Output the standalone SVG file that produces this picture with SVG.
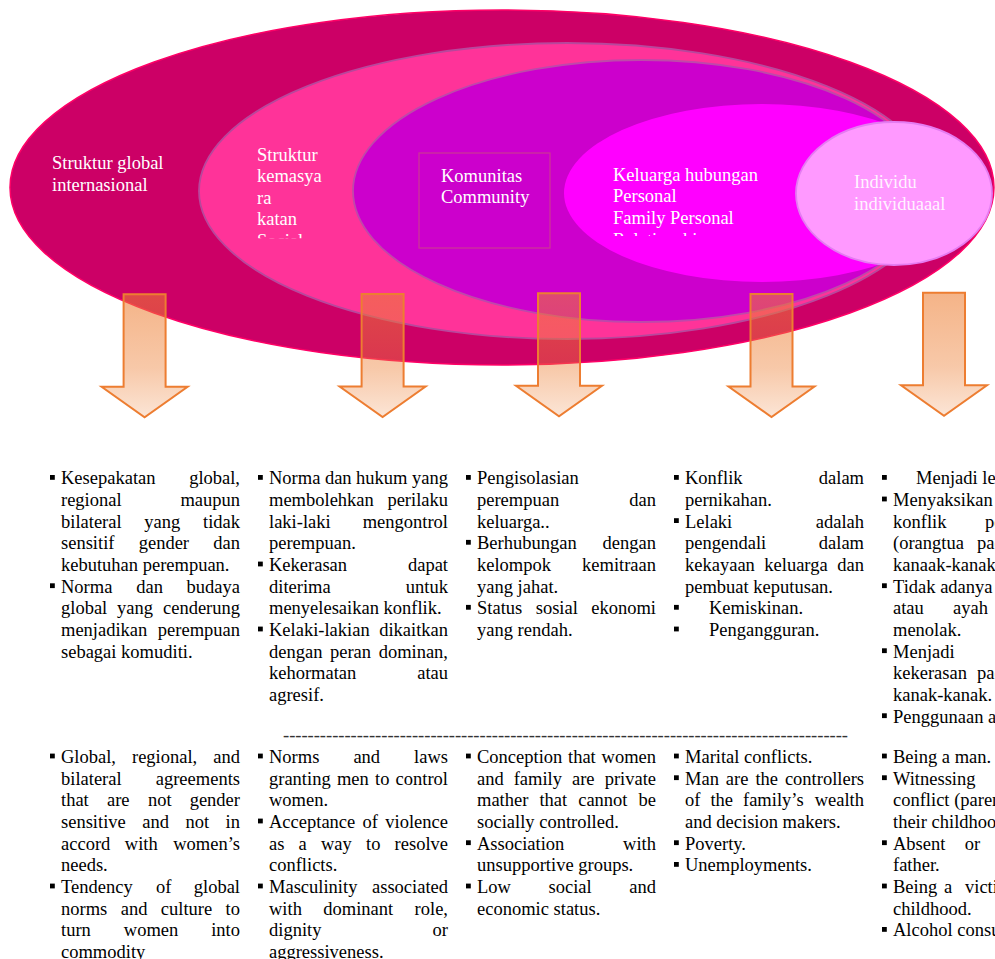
<svg xmlns="http://www.w3.org/2000/svg" width="995" height="959" viewBox="0 0 995 959">
<defs>
<style>
.lbl{font-family:"Liberation Serif","Times New Roman",serif;font-size:18.5px;fill:#fff}
.t{font-family:"Liberation Serif","Times New Roman",serif;font-size:18.5px;fill:#000}
.e{text-anchor:end}
.arr{fill:url(#ag);stroke:#ED7D31;stroke-width:2}
</style>
<linearGradient id="ag" x1="0" y1="0" x2="0" y2="1">
<stop offset="0" stop-color="#ED7D31" stop-opacity="0.58"/>
<stop offset="0.6" stop-color="#ED7D31" stop-opacity="0.42"/>
<stop offset="1" stop-color="#ED7D31" stop-opacity="0.2"/>
</linearGradient>
<path id="arrow" d="M-21,0 H21 V92.5 H43 L0,123 L-43,92.5 H-21 Z"/>
<rect id="bl" width="4.8" height="4.8"/>
<clipPath id="c1"><rect x="240" y="130" width="120" height="108.3"/></clipPath>
<clipPath id="c2"><rect x="600" y="150" width="220" height="86"/></clipPath>
</defs>

<g id="global">
<ellipse cx="502" cy="187.5" rx="492" ry="177.5" fill="#CC0066" stroke="#FF0066" stroke-width="1.5"/>
</g>
<g id="societal">
<ellipse cx="567" cy="191" rx="368" ry="148" fill="#FF3399" stroke="#B8479C" stroke-width="1.8"/>
</g>
<g id="community">
<ellipse cx="641.5" cy="191" rx="288.5" ry="131" fill="#CC00CC" stroke="#BF48AA" stroke-width="1.8"/>
<rect x="419" y="153" width="131" height="95" fill="none" stroke="#CC3399" stroke-width="1.3"/>
</g>
<g id="family">
<ellipse cx="762" cy="193" rx="198" ry="89" fill="#FF00FF"/>
</g>
<g id="individual">
<ellipse cx="894" cy="193.5" rx="98" ry="71.5" fill="#FF99FF" stroke="#E47CF2" stroke-width="1.8"/>
</g>

<g id="labels" class="lbl">
<text x="52" y="169.3">Struktur global</text>
<text x="52" y="190.7">internasional</text>
<g clip-path="url(#c1)">
<text x="257" y="160.7">Struktur</text>
<text x="257" y="182.3">kemasya</text>
<text x="257" y="204">ra</text>
<text x="257" y="225.3">katan</text>
<text x="257" y="246.8">Social</text>
</g>
<text x="441" y="182">Komunitas</text>
<text x="441" y="202.5">Community</text>
<g clip-path="url(#c2)">
<text x="613" y="181">Keluarga hubungan</text>
<text x="613" y="202.3">Personal</text>
<text x="613" y="224">Family Personal</text>
<text x="613" y="245.5">Relationship</text>
</g>
<text x="854" y="188.3" fill-opacity="0.9">Individu</text>
<text x="854" y="210" fill-opacity="0.9">individuaaal</text>
</g>

<g id="connectors">
<use href="#arrow" class="arr" x="144.6" y="294.3"/>
<use href="#arrow" class="arr" x="382.6" y="294"/>
<use href="#arrow" class="arr" x="559" y="293.3"/>
<use href="#arrow" class="arr" x="771.5" y="294"/>
<use href="#arrow" class="arr" x="944" y="292.7"/>
</g>

<g id="col1-id" class="t">
<use href="#bl" x="50" y="475"/>
<text x="61" y="484.3">Kesepakatan</text><text class="e" x="240" y="484.3">global,</text>
<text x="61" y="506">regional</text><text class="e" x="240" y="506">maupun</text>
<text y="527.6"><tspan x="61">bilateral</tspan><tspan x="144.3">yang</tspan></text><text class="e" x="240" y="527.6">tidak</text>
<text y="549.3"><tspan x="61">sensitif</tspan><tspan x="138.7">gender</tspan></text><text class="e" x="240" y="549.3">dan</text>
<text x="61" y="571">kebutuhan perempuan.</text>
<use href="#bl" x="50" y="583.3"/>
<text y="592.7"><tspan x="61">Norma</tspan><tspan x="136.2">dan</tspan></text><text class="e" x="240" y="592.7">budaya</text>
<text y="614.3"><tspan x="61">global</tspan><tspan x="117.1">yang</tspan></text><text class="e" x="240" y="614.3">cenderung</text>
<text x="61" y="636">menjadikan</text><text class="e" x="240" y="636">perempuan</text>
<text x="61" y="657.7">sebagai komuditi.</text>
</g>

<g id="col2-id" class="t">
<use href="#bl" x="258" y="475"/>
<text y="484.3"><tspan x="269">Norma</tspan><tspan x="324.9">dan</tspan><tspan x="356.1">hukum</tspan></text><text class="e" x="448" y="484.3">yang</text>
<text x="269" y="506">membolehkan</text><text class="e" x="448" y="506">perilaku</text>
<text x="269" y="527.6">laki-laki</text><text class="e" x="448" y="527.6">mengontrol</text>
<text x="269" y="549.3">perempuan.</text>
<use href="#bl" x="258" y="561.6"/>
<text x="269" y="571">Kekerasan</text><text class="e" x="448" y="571">dapat</text>
<text x="269" y="592.7">diterima</text><text class="e" x="448" y="592.7">untuk</text>
<text x="269" y="614.3">menyelesaikan konflik.</text>
<use href="#bl" x="258" y="626.6"/>
<text x="269" y="636">Kelaki-lakian</text><text class="e" x="448" y="636">dikaitkan</text>
<text y="657.7"><tspan x="269">dengan</tspan><tspan x="330">peran</tspan></text><text class="e" x="448" y="657.7">dominan,</text>
<text x="269" y="679.3">kehormatan</text><text class="e" x="448" y="679.3">atau</text>
<text x="269" y="701">agresif.</text>
</g>

<g id="col3-id" class="t">
<use href="#bl" x="466" y="475"/>
<text x="477" y="484.3">Pengisolasian</text>
<text x="477" y="506">perempuan</text><text class="e" x="656" y="506">dan</text>
<text x="477" y="527.6">keluarga..</text>
<use href="#bl" x="466" y="539.9"/>
<text x="477" y="549.3">Berhubungan</text><text class="e" x="656" y="549.3">dengan</text>
<text x="477" y="571">kelompok</text><text class="e" x="656" y="571">kemitraan</text>
<text x="477" y="592.7">yang jahat.</text>
<use href="#bl" x="466" y="604.9"/>
<text y="614.3"><tspan x="477">Status</tspan><tspan x="535.7">sosial</tspan></text><text class="e" x="656" y="614.3">ekonomi</text>
<text x="477" y="636">yang rendah.</text>
</g>

<g id="col4-id" class="t">
<use href="#bl" x="674" y="475"/>
<text x="685" y="484.3">Konflik</text><text class="e" x="864" y="484.3">dalam</text>
<text x="685" y="506">pernikahan.</text>
<use href="#bl" x="674" y="518.2"/>
<text x="685" y="527.6">Lelaki</text><text class="e" x="864" y="527.6">adalah</text>
<text x="685" y="549.3">pengendali</text><text class="e" x="864" y="549.3">dalam</text>
<text y="571"><tspan x="685">kekayaan</tspan><tspan x="764.3">keluarga</tspan></text><text class="e" x="864" y="571">dan</text>
<text x="685" y="592.7">pembuat keputusan.</text>
<use href="#bl" x="674" y="604.9"/>
<text x="709" y="614.3">Kemiskinan.</text>
<use href="#bl" x="674" y="626.6"/>
<text x="709" y="636">Pengangguran.</text>
</g>

<g id="col5-id" class="t">
<use href="#bl" x="882" y="475"/>
<text x="916" y="484.3">Menjadi lelaki.</text>
<use href="#bl" x="882" y="496.6"/>
<text x="893" y="506">Menyaksikan</text>
<text y="527.6"><tspan x="893">konflik</tspan><tspan x="985">perkawinan</tspan></text>
<text y="549.3"><tspan x="893">(orangtua</tspan><tspan x="977">pada</tspan></text>
<text x="893" y="571">kanaak-kanak</text>
<use href="#bl" x="882" y="583.3"/>
<text x="893" y="592.7">Tidak adanya</text>
<text y="614.3"><tspan x="893">atau</tspan><tspan x="953">ayah</tspan></text>
<text x="893" y="636">menolak.</text>
<use href="#bl" x="882" y="648.3"/>
<text x="893" y="657.7">Menjadi</text>
<text y="679.3"><tspan x="893">kekerasan</tspan><tspan x="977">pada</tspan></text>
<text x="893" y="701">kanak-kanak.</text>
<use href="#bl" x="882" y="713.3"/>
<text x="893" y="722.7">Penggunaan alkohol.</text>
</g>

<g id="separator" class="t">
<text x="283" y="741" textLength="565" lengthAdjust="spacing" fill="#333">--------------------------------------------------------------------------------------------</text>
</g>

<g id="col1-en" class="t">
<use href="#bl" x="50" y="753.6"/>
<text y="763"><tspan x="61">Global,</tspan><tspan x="132">regional,</tspan></text><text class="e" x="240" y="763">and</text>
<text x="61" y="784.7">bilateral</text><text class="e" x="240" y="784.7">agreements</text>
<text y="806.3"><tspan x="61">that</tspan><tspan x="107">are</tspan><tspan x="147.9">not</tspan></text><text class="e" x="240" y="806.3">gender</text>
<text y="828"><tspan x="61">sensitive</tspan><tspan x="142.3">and</tspan><tspan x="185.5">not</tspan></text><text class="e" x="240" y="828">in</text>
<text y="849.7"><tspan x="61">accord</tspan><tspan x="124.8">with</tspan></text><text class="e" x="240" y="849.7">women’s</text>
<text x="61" y="871.4">needs.</text>
<use href="#bl" x="50" y="883.6"/>
<text y="893"><tspan x="61">Tendency</tspan><tspan x="156.1">of</tspan></text><text class="e" x="240" y="893">global</text>
<text y="914.7"><tspan x="61">norms</tspan><tspan x="120.7">and</tspan><tspan x="160.8">culture</tspan></text><text class="e" x="240" y="914.7">to</text>
<text y="936.4"><tspan x="61">turn</tspan><tspan x="123.8">women</tspan></text><text class="e" x="240" y="936.4">into</text>
<text x="61" y="958">commodity</text>
</g>

<g id="col2-en" class="t">
<use href="#bl" x="258" y="753.6"/>
<text y="763"><tspan x="269">Norms</tspan><tspan x="353.4">and</tspan></text><text class="e" x="448" y="763">laws</text>
<text y="784.7"><tspan x="269">granting</tspan><tspan x="336.9">men</tspan><tspan x="375">to</tspan></text><text class="e" x="448" y="784.7">control</text>
<text x="269" y="806.3">women.</text>
<use href="#bl" x="258" y="818.6"/>
<text y="828"><tspan x="269">Acceptance</tspan><tspan x="362.6">of</tspan></text><text class="e" x="448" y="828">violence</text>
<text y="849.7"><tspan x="269">as</tspan><tspan x="298.6">a</tspan><tspan x="321">way</tspan><tspan x="366">to</tspan></text><text class="e" x="448" y="849.7">resolve</text>
<text x="269" y="871.4">conflicts.</text>
<use href="#bl" x="258" y="883.6"/>
<text x="269" y="893">Masculinity</text><text class="e" x="448" y="893">associated</text>
<text y="914.7"><tspan x="269">with</tspan><tspan x="323.3">dominant</tspan></text><text class="e" x="448" y="914.7">role,</text>
<text x="269" y="936.4">dignity</text><text class="e" x="448" y="936.4">or</text>
<text x="269" y="958">aggressiveness.</text>
</g>

<g id="col3-en" class="t">
<use href="#bl" x="466" y="753.6"/>
<text y="763"><tspan x="477">Conception</tspan><tspan x="568">that</tspan></text><text class="e" x="656" y="763">women</text>
<text y="784.7"><tspan x="477">and</tspan><tspan x="513.7">family</tspan><tspan x="572">are</tspan></text><text class="e" x="656" y="784.7">private</text>
<text y="806.3"><tspan x="477">mather</tspan><tspan x="539.4">that</tspan><tspan x="578.2">cannot</tspan></text><text class="e" x="656" y="806.3">be</text>
<text x="477" y="828">socially controlled.</text>
<use href="#bl" x="466" y="840.3"/>
<text x="477" y="849.7">Association</text><text class="e" x="656" y="849.7">with</text>
<text x="477" y="871.4">unsupportive groups.</text>
<use href="#bl" x="466" y="883.6"/>
<text y="893"><tspan x="477">Low</tspan><tspan x="548.5">social</tspan></text><text class="e" x="656" y="893">and</text>
<text x="477" y="914.7">economic status.</text>
</g>

<g id="col4-en" class="t">
<use href="#bl" x="674" y="753.6"/>
<text x="685" y="763">Marital conflicts.</text>
<use href="#bl" x="674" y="775.3"/>
<text y="784.7"><tspan x="685">Man</tspan><tspan x="725.8">are</tspan><tspan x="755.4">the</tspan></text><text class="e" x="864" y="784.7">controllers</text>
<text y="806.3"><tspan x="685">of</tspan><tspan x="710.4">the</tspan><tspan x="743">family’s</tspan></text><text class="e" x="864" y="806.3">wealth</text>
<text x="685" y="828">and decision makers.</text>
<use href="#bl" x="674" y="840.3"/>
<text x="685" y="849.7">Poverty.</text>
<use href="#bl" x="674" y="862"/>
<text x="685" y="871.4">Unemployments.</text>
</g>

<g id="col5-en" class="t">
<use href="#bl" x="882" y="753.6"/>
<text x="893" y="763">Being a man.</text>
<use href="#bl" x="882" y="775.3"/>
<text x="893" y="784.7">Witnessing</text>
<text x="893" y="806.3">conflict (parents’</text>
<text x="893" y="828">their childhood</text>
<use href="#bl" x="882" y="840.3"/>
<text y="849.7"><tspan x="893">Absent</tspan><tspan x="964.7">or</tspan></text>
<text x="893" y="871.4">father.</text>
<use href="#bl" x="882" y="883.6"/>
<text y="893"><tspan x="893">Being</tspan><tspan x="944">a</tspan><tspan x="965">victim</tspan></text>
<text x="893" y="914.7">childhood.</text>
<use href="#bl" x="882" y="927"/>
<text x="893" y="936.4">Alcohol consumption.</text>
</g>
</svg>
